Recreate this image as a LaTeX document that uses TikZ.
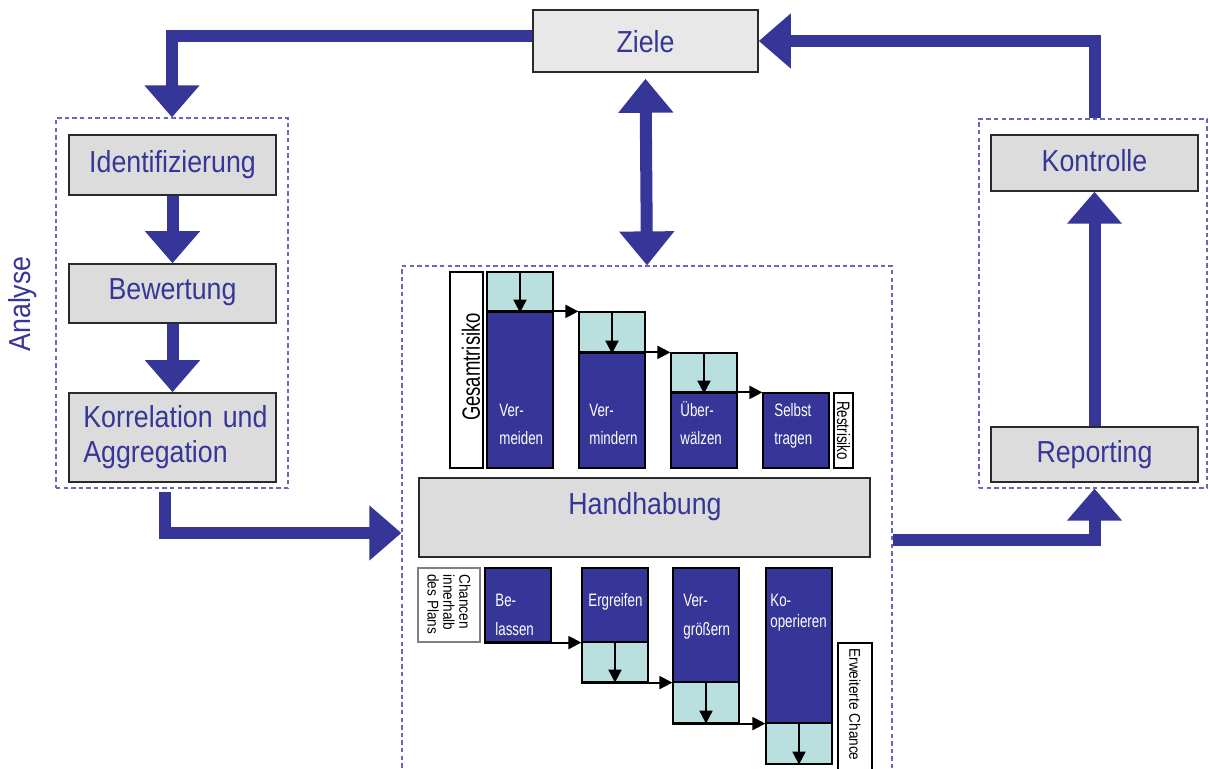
\documentclass[tikz,border=0pt]{standalone}
\usepackage{fontspec}
\setmainfont{Liberation Sans}[FakeStretch=0.88]
\newfontfamily\narrowsans{Liberation Sans}[FakeStretch=0.74]
\usetikzlibrary{arrows.meta,fit}
\definecolor{navy}{HTML}{363698}
\definecolor{boxgray}{HTML}{DCDCDC}
\definecolor{zielgray}{HTML}{E8E8E8}
\definecolor{lightcyan}{HTML}{B9DFDF}
\definecolor{dashblue}{HTML}{6868B8}
\definecolor{boxline}{HTML}{2A2A2A}
\newcommand\biglabel{\fontsize{15.2}{17.5}\selectfont}
\newcommand\smalllabel{\narrowsans\fontsize{9}{14}\selectfont}
\begin{document}
\begin{tikzpicture}[x=0.5pt,y=-0.5pt,
  zone/.style={draw=dashblue, dash pattern=on 2.2pt off 1.6pt, line width=0.6pt, inner sep=0pt},
  gbox/.style={draw=boxline, fill=boxgray, line width=0.75pt, inner sep=0pt},
  bigtext/.style={text=navy, font=\biglabel, inner sep=0pt},
  bar/.style={draw=black, fill=navy, line width=0.6pt, inner sep=0pt},
  cyanbox/.style={draw=black, fill=lightcyan, line width=0.6pt, inner sep=0pt},
  wbox/.style={draw=black, fill=white, line width=0.6pt, inner sep=0pt},
  coltext/.style={text=white, font=\smalllabel, anchor=base west, inner sep=0pt, text width=32pt, align=left},
  bigarrow/.style={draw=navy, line width=6pt, line join=miter, -{Triangle[width=26.5pt,length=16pt]}},
  bigdouble/.style={draw=navy, line width=6pt, {Triangle[width=26.5pt,length=17pt]}-{Triangle[width=26.5pt,length=17pt]}},
  thinarrow/.style={draw=black, line width=1pt, -{Triangle[width=6.5pt,length=6.5pt]}}
]
\useasboundingbox (0,0) rectangle (1210,769);
\clip (0,0) rectangle (1210,769);

% zones
\node[zone, fit={(56,118)(288,488)}] (analyse) {};
\node[zone, fit={(979,119)(1207,488)}] (ctrlzone) {};
\node[zone, fit={(402,266)(892,780)}] (hzone) {};

% main boxes
\node[gbox, fill=zielgray, fit={(533,10)(758,72)}] (ziele) {};
\node[bigtext, anchor=base] (zieletext) at (645.5,53) {Ziele};
\node[gbox, fit={(69,135)(276,195)}] (ident) {};
\node[bigtext, anchor=base] (identtext) at (172.5,173) {Identifizierung};
\node[gbox, fit={(69,264)(276,323)}] (bewert) {};
\node[bigtext, anchor=base] (bewerttext) at (172.5,300) {Bewertung};
\node[gbox, fit={(69,393)(276,482)}] (korr) {};
\node[bigtext, anchor=base west, text width=110pt, align=left] (korrtext) at (83,428) {Korrelation und\\Aggregation};
\node[gbox, fit={(991,135)(1198,191)}] (kontrolle) {};
\node[bigtext, anchor=base] (kontrolletext) at (1094.5,172) {Kontrolle};
\node[gbox, fit={(991,427)(1198,482)}] (reporting) {};
\node[bigtext, anchor=base] (reportingtext) at (1094.5,463) {Reporting};
\node[gbox, fit={(419,478)(870,557)}] (handh) {};
\node[bigtext, anchor=base] (handhtext) at (645,515) {Handhabung};
\node[bigtext, rotate=90] (analysetext) at (23,304) {Analyse};

% upper columns (risks)
\node[wbox, fit={(450,272)(483,468)}] (gesamt) {};
\node[rotate=90, inner sep=0pt, font=\narrowsans\fontsize{12.5}{14}\selectfont] (gesamttext) at (471,367) {Gesamtrisiko};
\node[cyanbox, fit={(487,272)(553,312)}] (u1a) {};
\node[bar, fit={(487,312)(553,468)}] (u1) {};
\node[cyanbox, fit={(579,312)(645,353)}] (u2a) {};
\node[bar, fit={(579,353)(645,468)}] (u2) {};
\node[cyanbox, fit={(671,353)(737,393)}] (u3a) {};
\node[bar, fit={(671,393)(737,468)}] (u3) {};
\node[bar, fit={(763,393)(829,468)}] (u4) {};
\node[wbox, fit={(834,393)(853,468)}] (rest) {};
\node[rotate=-90, inner sep=0pt, font=\narrowsans\fontsize{9}{10}\selectfont] (resttext) at (rest.center) {Restrisiko};

\node[coltext] (u1t) at (499,417) {Ver-\\meiden};
\node[coltext] (u2t) at (589,417) {Ver-\\mindern};
\node[coltext] (u3t) at (680,417) {Über-\\wälzen};
\node[coltext] (u4t) at (774,417) {Selbst\\tragen};

\draw[thinarrow] (u1a.north) -- (u1a.south);
\draw[thinarrow] (u1.north west) -- (u1.north west -| u2a.west);
\draw[thinarrow] (u2a.north) -- (u2a.south);
\draw[thinarrow] (u2.north west) -- (u2.north west -| u3a.west);
\draw[thinarrow] (u3a.north) -- (u3a.south);
\draw[thinarrow] (u3.north west) -- (u3.north west -| u4.west);

% lower columns (chances)
\node[wbox, draw=gray, fit={(418,568)(480,642)}] (chancen) {};
\node[rotate=-90, anchor=west, inner sep=0pt, align=left, font=\fontsize{7.75}{7.9}\selectfont] (chancentext) at (449,574) {Chancen\\innerhalb\\des Plans};
\node[bar, fit={(485,568)(551,642)}] (l1) {};
\node[bar, fit={(582,568)(648,642)}] (l2) {};
\node[cyanbox, fit={(582,642)(648,682)}] (l2a) {};
\node[bar, fit={(673,568)(739,682)}] (l3) {};
\node[cyanbox, fit={(673,682)(739,723)}] (l3a) {};
\node[bar, fit={(766,568)(832,723)}] (l4) {};
\node[cyanbox, fit={(766,723)(832,764)}] (l4a) {};
\node[wbox, fit={(838,643)(872,800)}] (erw) {};
\node[rotate=-90, anchor=west, inner sep=0pt, font=\fontsize{7.75}{9}\selectfont] (erwtext) at (855,648) {Erweiterte Chance};

\node[coltext] (l1t) at (495,607) {Be-\\lassen};
\node[coltext] (l2t) at (588,607) {Ergreifen};
\node[coltext] (l3t) at (683,607) {Ver-\\größern};
\node[coltext, font=\narrowsans\fontsize{9}{10}\selectfont] (l4t) at (770,607) {Ko-\\operieren};

\draw[thinarrow] (l1.south west) -- (l1.south west -| l2.west);
\draw[thinarrow] (l2a.north) -- (l2a.south);
\draw[thinarrow] (l2a.south west) -- (l2a.south west -| l3.west);
\draw[thinarrow] (l3a.north) -- (l3a.south);
\draw[thinarrow] (l3a.south west) -- (l3a.south west -| l4.west);
\draw[thinarrow] (l4a.north) -- (l4a.south);

% thick flow arrows
\draw[bigarrow] ([yshift=2.5pt]ziele.west) -| (analyse.north);
\draw[bigarrow] (ident.south) -- (bewert.north);
\draw[bigarrow] (bewert.south) -- (korr.north);
\draw[bigarrow] ([xshift=-3.75pt,yshift=-1.5pt]analyse.south) |- ([yshift=-5pt]hzone.west);
\draw[bigdouble] ([yshift=-3pt]ziele.south) -- (hzone.north);
\draw[bigarrow] ([yshift=-8.5pt]hzone.east) -| (reporting.south |- ctrlzone.south);
\draw[bigarrow] (reporting.north) -- (kontrolle.south);
\draw[bigarrow] (kontrolle.north |- ctrlzone.north) |- (ziele.east);
\end{tikzpicture}
\end{document}
